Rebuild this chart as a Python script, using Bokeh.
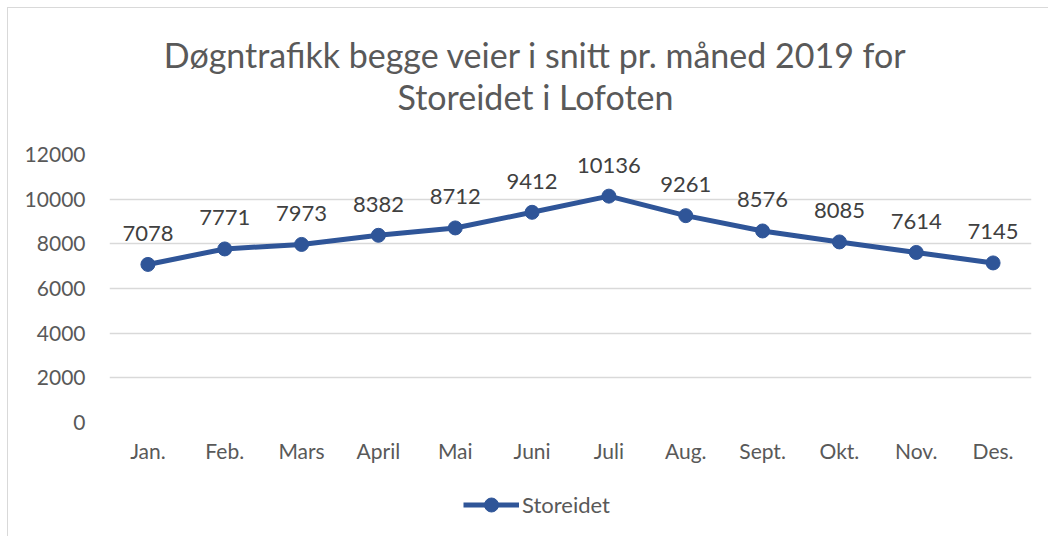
from bokeh.plotting import figure
from bokeh.layouts import column
from bokeh.models import (ColumnDataSource, FactorRange, Range1d, LabelSet, Label,
                          Legend, LegendItem, SingleIntervalTicker)
from bokeh.core.properties import value
from bokeh.embed import file_html
from bokeh.resources import INLINE

months = ["Jan.", "Feb.", "Mars", "April", "Mai", "Juni", "Juli", "Aug.", "Sept.", "Okt.", "Nov.", "Des."]
storeidet = [7078, 7771, 7973, 8382, 8712, 9412, 10136, 9261, 8576, 8085, 7614, 7145]
series_name = "Storeidet"
title_lines = ["Døgntrafikk begge veier i snitt pr. måned 2019 for", "Storeidet i Lofoten"]

FONT = "Lato"
BLUE = "#2F5598"
GRID = "#d9d9d9"
TXT = "#595959"
W = 1040

src = ColumnDataSource(dict(m=months, v=storeidet, t=[str(x) for x in storeidet]))


def strip(height):
    f = figure(width=W, height=height, output_backend="svg", toolbar_location=None,
               x_range=FactorRange(*months, range_padding=0), y_range=Range1d(0, 1),
               title=None, x_axis_type=None, y_axis_type=None,
               min_border_left=0, min_border_right=0, min_border_top=0, min_border_bottom=0)
    f.outline_line_color = None
    f.grid.visible = False
    f.border_fill_color = "white"
    f.background_fill_color = "white"
    return f


# ---- title strip
pt = strip(132)
for line_txt, ypos in zip(title_lines, [86, 44]):
    pt.add_layout(Label(x=426, y=ypos, x_units="screen", y_units="screen", text=line_txt,
                        text_align="center", text_baseline="middle",
                        text_font=FONT, text_font_size="34px", text_color=TXT))

# ---- main chart
p = figure(width=W, height=340, output_backend="svg", toolbar_location=None,
           x_range=FactorRange(*months, range_padding=0), y_range=Range1d(0, 12000),
           title=None, min_border_left=101, min_border_right=17,
           min_border_top=14, min_border_bottom=58)
p.outline_line_color = None
p.background_fill_color = "white"
p.border_fill_color = "white"

p.xgrid.grid_line_color = None
p.ygrid.grid_line_color = GRID
p.ygrid.grid_line_width = 1.5
p.yaxis.ticker = SingleIntervalTicker(interval=2000)
for ax in (p.xaxis[0], p.yaxis[0]):
    ax.axis_line_color = None
    ax.major_tick_line_color = None
    ax.minor_tick_line_color = None
    ax.major_label_text_font = FONT
    ax.major_label_text_font_size = "21px"
    ax.major_label_text_color = TXT
p.yaxis.major_label_standoff = 18
p.xaxis.major_label_standoff = 9

p.line("m", "v", source=src, line_color=BLUE, line_width=5)
p.scatter("m", "v", source=src, size=14, fill_color=BLUE, line_color=BLUE)

labels = LabelSet(x="m", y="v", text="t", source=src, y_offset=31,
                  text_align="center", text_baseline="middle",
                  text_font=value(FONT), text_font_size="22px", text_color="#404040")
p.add_layout(labels)

# ---- legend strip (series drawn outside its visible range; only the legend shows)
pl = strip(56)
lg_line = pl.line("m", "v", source=src, line_color=BLUE, line_width=5)
lg_dot = pl.scatter("m", "v", source=src, size=14, fill_color=BLUE, line_color=BLUE)
legend = Legend(items=[LegendItem(label=series_name, renderers=[lg_line, lg_dot])],
                location=(354, 14), glyph_width=56, glyph_height=35, label_height=35,
                label_standoff=3, padding=0, margin=0, spacing=0,
                border_line_color=None, background_fill_alpha=0,
                label_text_font=FONT, label_text_font_size="22px", label_text_color=TXT)
pl.add_layout(legend, "center")

layout = column(pt, p, pl, spacing=0,
                styles={"margin-left": "7px", "margin-top": "7px",
                        "border-left": "1px solid #d9d9d9", "border-top": "1px solid #d9d9d9"})

open("out.html", "w").write(file_html(layout, INLINE))
